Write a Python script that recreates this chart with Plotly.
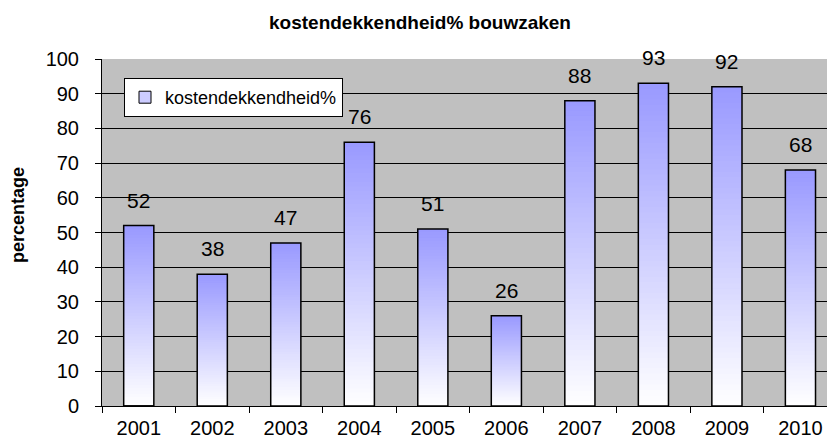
import plotly.graph_objects as go

years = ["2001", "2002", "2003", "2004", "2005", "2006", "2007", "2008", "2009", "2010"]
values = [52, 38, 47, 76, 51, 26, 88, 93, 92, 68]
series_name = "kostendekkendheid%"
y_ticks = [0, 10, 20, 30, 40, 50, 60, 70, 80, 90, 100]

FONT = "Liberation Sans, Arial, sans-serif"
N = 60
top = (153, 153, 255)
bot = (255, 255, 255)
BW = 0.41
xs = list(range(len(years)))

# page has an 8px body margin: plot area wanted at x 102..835, y 59..406 in the window
OFF = 8
L, T = 102 - OFF, 59 - OFF
PW, PH = 733, 347
W, H = 835, 448

fig = go.Figure()
for k in range(N):
    t = (k + 0.5) / N
    c = tuple(round(bot[i] + (top[i] - bot[i]) * t) for i in range(3))
    seg = [min(v * 2 / N, v - v * k / N) for v in values]
    fig.add_trace(go.Bar(
        x=xs, y=seg, base=[v * k / N for v in values],
        width=BW, marker=dict(color="rgb(%d,%d,%d)" % c, line=dict(width=0)),
        showlegend=False, hoverinfo="skip"))

fig.add_trace(go.Bar(
    x=xs, y=values, width=BW, name=series_name,
    marker=dict(color="rgba(0,0,0,0)", line=dict(color="black", width=1.5)),
    showlegend=False))

# legend proxy
fig.add_trace(go.Bar(
    x=[0], y=[0], name=series_name, width=BW,
    marker=dict(color="#CCCCFF", line=dict(color="black", width=1)),
    showlegend=True, hoverinfo="skip"))

for i, v in zip(xs, values):
    fig.add_annotation(x=i, y=v, xref="x", yref="y", text=str(v), showarrow=False,
                       yanchor="bottom", yshift=12,
                       font=dict(size=21, color="black", family=FONT))

fig.add_annotation(xref="paper", yref="paper", x=(18 - 102) / PW, y=(406 - 215) / PH,
                   text="<b>percentage</b>", textangle=-90, showarrow=False,
                   xanchor="center", yanchor="middle",
                   font=dict(size=18, color="black", family=FONT))

fig.update_layout(
    width=W, height=H,
    margin=dict(l=L, r=W - L - PW, t=T, b=H - T - PH, autoexpand=False),
    barmode="overlay",
    paper_bgcolor="white", plot_bgcolor="#C0C0C0",
    font=dict(family=FONT, color="black"),
    title=dict(text="<b>kostendekkendheid% bouwzaken</b>", x=(420 - OFF) / W, xanchor="center",
               y=1 - (22 - OFF) / H, yanchor="middle", yref="container",
               font=dict(size=19, color="black")),
    legend=dict(x=(124 - 102) / PW, y=1 - (78 - 59) / PH, xanchor="left", yanchor="top",
                bgcolor="white", bordercolor="black", borderwidth=1,
                font=dict(size=18, color="black"), itemwidth=30),
    xaxis=dict(range=[-0.5, 9.47], tickvals=xs, ticktext=years,
               ticks="", showgrid=False,
               showline=True, linecolor="black", linewidth=1,
               tickfont=dict(size=20), ticklabelstandoff=4, zeroline=False),
    yaxis=dict(range=[0, 100], tickvals=y_ticks, ticks="outside", ticklen=6,
               tickcolor="black", showgrid=True, gridcolor="black", gridwidth=1,
               showline=True, linecolor="black", linewidth=1, zeroline=False,
               tickfont=dict(size=20), ticklabelstandoff=12),
)

# category boundary tick marks on the x axis, drawn as axis minor ticks
fig.update_xaxes(minor=dict(tickvals=[i - 0.5 for i in xs] + [9.5], ticks="outside",
                            ticklen=6, tickcolor="black", showgrid=False))

fig.write_html("out.html")
